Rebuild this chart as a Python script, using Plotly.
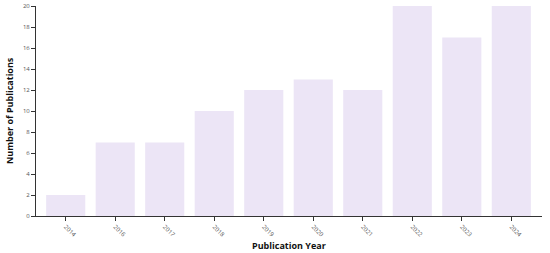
import plotly.graph_objects as go

years = ["2014", "2016", "2017", "2018", "2019", "2020", "2021", "2022", "2023", "2024"]
counts = [2, 7, 7, 10, 12, 13, 12, 20, 17, 20]
y_ticks = list(range(0, 21, 2))

fig = go.Figure(go.Bar(
    x=years, y=counts,
    marker=dict(color="#ECE5F6", line=dict(width=0)),
    hoverinfo="x+y",
))

fig.update_layout(
    width=550, height=253,
    margin=dict(l=36, r=8, t=6, b=37, autoexpand=False),
    plot_bgcolor="white", paper_bgcolor="white",
    bargap=0.21,
    showlegend=False,
    font=dict(family="Open Sans, sans-serif", color="#333"),
    annotations=[
        dict(text="<b>Publication Year</b>", xref="paper", yref="paper",
             x=0.5, y=0, yshift=-29, xanchor="center", yanchor="middle",
             showarrow=False, font=dict(size=9, color="#111")),
        dict(text="<b>Number of Publications</b>", xref="paper", yref="paper",
             x=0, y=0.5, xshift=-27, xanchor="center", yanchor="middle", textangle=-90,
             showarrow=False, font=dict(size=9, color="#111")),
    ],
)
fig.update_xaxes(
    type="category", automargin=False, range=[-0.6, 9.62],
    showline=True, linecolor="#333", linewidth=1,
    ticks="outside", ticklen=4, tickcolor="#333",
    tickangle=45, tickfont=dict(size=6, color="#555"),
    showgrid=False,
)
fig.update_yaxes(
    range=[0, 20], tickvals=y_ticks, automargin=False,
    showline=True, linecolor="#333", linewidth=1,
    ticks="outside", ticklen=4, tickcolor="#333",
    tickfont=dict(size=6, color="#555"),
    showgrid=False, zeroline=False,
)

fig.write_html("out.html", config={"displayModeBar": False},
               post_script="document.body.style.margin='0';document.body.style.overflow='hidden';")
